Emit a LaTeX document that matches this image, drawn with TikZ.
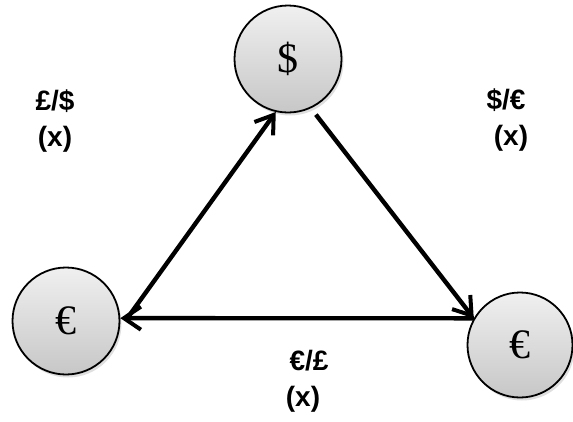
\documentclass[tikz,border=0pt]{standalone}
\usepackage{fontspec}
\setmainfont{Liberation Sans}
\newfontfamily\symfont{Liberation Serif}
\usepackage{tikz}
\usetikzlibrary{arrows.meta, shadows}

\begin{document}
\begin{tikzpicture}[
      x=1pt, y=-1pt,
      cur/.style={circle, draw, line width=1.8pt, top color=black!6, bottom color=black!22,
                  drop shadow={shadow xshift=2pt, shadow yshift=-3pt, opacity=0.25},
                  minimum size=107pt, font=\symfont\fontsize{42}{42}\selectfont},
      rate/.style={align=center, inner sep=0pt, font=\bfseries\fontsize{28}{36}\selectfont},
      arr/.style={-{Straight Barb[length=17pt, width=23pt, line width=4pt]}, line width=4.4pt}
    ]
    \useasboundingbox (0,0) rectangle (573,421);
    \node[cur] (usd) at (288,59) {\$};
    \node[cur] (eurl) at (66,321) {€};
    \node[cur, minimum size=105pt] (eurr) at (520,345) {€};
    \node[rate] (gbpusd) at (55,121) {£/\$\\(x)};
    \node[rate] (usdeur) at (506,120) {\$/€\\\hspace*{10pt}(x)};
    \node[rate] (eurgbp) at (309,381) {€/£\\(x)\hspace*{12pt}};
    \draw[arr] ([xshift=7pt]eurl.3) -- (usd.257);
    \draw[arr, shorten <=8pt] (usd.-65) -- (eurr.150);
    \draw[arr] (eurr.150) -- (eurl.3);
  \end{tikzpicture}
\end{document}
